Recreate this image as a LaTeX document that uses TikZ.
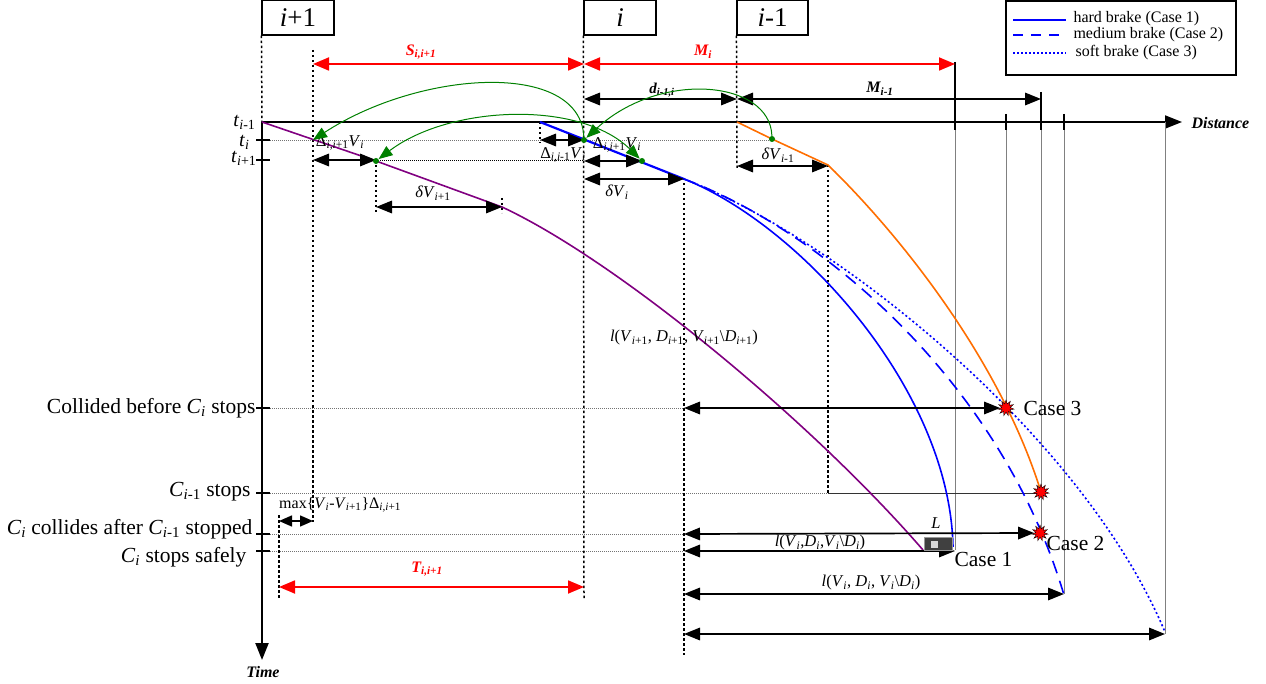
\documentclass[tikz,border=0pt]{standalone}
\usepackage{fontspec}
\setmainfont{Liberation Serif}
\usetikzlibrary{arrows.meta,shapes.geometric}
\definecolor{orng}{RGB}{255,110,0}
\definecolor{grn}{RGB}{0,128,0}
\definecolor{prp}{RGB}{128,0,128}
\newcommand{\sbs}[1]{\textsubscript{#1}}
\begin{document}
\begin{tikzpicture}[x=1pt,y=-1pt,
  box/.style={draw,line width=1.1pt,minimum width=72pt,minimum height=35pt,inner sep=0pt,font=\fontsize{27}{30}\selectfont},
  vd/.style={line width=1.5pt,dash pattern=on 2.5pt off 2.5pt},
  gd/.style={black!55,line width=0.7pt,dash pattern=on 1pt off 1pt},
  vg/.style={black!50,line width=0.6pt},
  darr/.style={line width=1.7pt,{Triangle[length=16pt,width=12.5pt]}-{Triangle[length=16pt,width=12.5pt]}},
  rarr/.style={red,line width=1.8pt,{Triangle[length=16pt,width=13pt]}-{Triangle[length=16pt,width=13pt]}},
  garr/.style={grn,line width=1pt,-{Triangle[length=14pt,width=11pt]}},
  garr2/.style={grn,line width=1pt,{Triangle[length=14pt,width=11pt]}-{Triangle[length=14pt,width=11pt]}},
  gpt/.style={circle,fill=grn,inner sep=0pt,minimum size=6pt},
  burst/.style={star,star points=11,star point ratio=1.9,fill=red,draw=black,line width=0.4pt,minimum size=16pt,inner sep=0pt},
  fbig/.style={font=\fontsize{21.5}{24}\selectfont},
  ft/.style={font=\fontsize{20}{22}\selectfont},
  fs/.style={font=\fontsize{16}{18}\selectfont},
  fl/.style={font=\fontsize{16.5}{18}\selectfont},
  fb/.style={font=\bfseries\itshape\fontsize{16}{18}\selectfont},
  tick/.style={line width=1.5pt}]
\useasboundingbox (0,0) rectangle (1266,684);

% boxes
\node[box] (bA) at (298,17.5) {\textit{i}+1};
\node[box] (bB) at (620,17.5) {\textit{i}};
\node[box,minimum width=71pt] (bC) at (772.5,17.5) {\textit{i}-1};

% axes
\coordinate (O) at (262,122);
\coordinate (Xe) at (1182,122);
\coordinate (Te) at (262,660);
\draw[line width=2.2pt,-{Triangle[length=17pt,width=13pt]}] (O) -- (Te);
\draw[line width=2pt,-{Triangle[length=17pt,width=13pt]}] (O) -- (Xe);
\node[fb,anchor=west] (dist) at (1188,123) {Distance};
\node[fb] (time) at (263,672) {Time};

% thin gray helper lines
\draw[gd] (262,140) -- (772,140);
\draw[black,line width=0.7pt,dash pattern=on 1pt off 1pt] (376,160) -- (584,160);
\draw[gd] (262,408) -- (684,408);
\draw[gd] (262,493) -- (828,493);
\draw[gd] (262,534) -- (684,534);
\draw[gd] (262,551) -- (684,551);
\draw[vg] (955,122) -- (955,550);
\draw[vg] (1006,130) -- (1006,408);
\draw[vg] (1041,130) -- (1041,534);
\draw[vg] (1064,130) -- (1064,594);
\draw[vg] (1165,122) -- (1165,634);
\draw[line width=0.8pt,black!80] (828,493) -- (1041,493);

% ticks
\foreach \yy in {140,160,408,493,534,551} \draw[tick] (256,\yy) -- (270,\yy);
\draw[line width=1.6pt] (955,62) -- (955,130);
\draw[line width=1.6pt] (1041,92) -- (1041,130);
\draw[line width=1.6pt] (1006,114) -- (1006,130);
\draw[line width=1.6pt] (1064,114) -- (1064,130);

% dotted verticals
\draw[vd] (bA.south west) -- (O);
\draw[vd] (313,50) -- (313,522);
\draw[vd] (bB.south west) -- (584,600);
\draw[vd] (bC.south west) -- (737,168);
\draw[vd] (376,160) -- (376,213);
\draw[vd] (502,198) -- (502,213);
\draw[vd] (540,122) -- (540,143);
\draw[vd] (684,178) -- (684,655);
\draw[vd] (828,165) -- (828,493);
\draw[vd] (279,515) -- (279,598);

% left labels
\node[ft,anchor=east] (lt1) at (259,122) {\textit{t}\sbs{\textit{i}-1}};
\node[ft,anchor=east] (lt2) at (253,142) {\textit{t}\sbs{\textit{i}}};
\node[ft,anchor=east] (lt3) at (260,158) {\textit{t}\sbs{\textit{i}+1}};
\node[fbig,anchor=east] (lc1) at (259,408) {Collided before \textit{C}\sbs{\textit{i}} stops};
\node[fbig,anchor=east] (lc2) at (254,492) {\textit{C}\sbs{\textit{i}-1} stops};
\node[fbig,anchor=east] (lc3) at (256,529) {\textit{C}\sbs{\textit{i}} collides after \textit{C}\sbs{\textit{i}-1} stopped};
\node[fbig,anchor=east] (lc4) at (250,557) {\textit{C}\sbs{\textit{i}} stops safely};

% red arrows
\draw[rarr] (313,64) -- (584,64);
\draw[rarr] (584,64) -- (955,64);
\draw[rarr] (279,587) -- (584,587);
\node[fb,red] (lS) at (421,52) {\textit{S}\sbs{\textit{i,i}+1}};
\node[fb,red] (lM) at (703,52) {\textit{M}\sbs{\textit{i}}};
\node[fb,red] (lT) at (427,569) {\textit{T}\sbs{\textit{i,i}+1}};

% black top arrows
\draw[darr] (584,99) -- (737,99);
\draw[darr] (737,99) -- (1041,99);
\node[fb,font=\bfseries\itshape\fontsize{15}{17}\selectfont] (ld) at (662,90) {\textit{d}\sbs{\textit{i}-1\textit{,i}}};
\node[fb] (lMm) at (880,89) {\textit{M}\sbs{\textit{i}-1}};

% vehicle trajectories
\draw[prp,line width=1.6pt] (262,122) -- (376,161) -- (502,207) .. controls (620,262) and (815,425) .. (923,550);
\draw[orng,line width=1.6pt] (737,122) -- (772,139) -- (828,165) .. controls (900,235) and (1000,360) .. (1041,492);
\draw[blue,line width=2.2pt] (540,122) -- (684,179);
\draw[blue,line width=1.6pt] (684,179) .. controls (800,225) and (950,390) .. (953,547);
\draw[blue,line width=1.6pt,dash pattern=on 13pt off 8pt] (684,179) .. controls (820,230) and (1000,380) .. (1064,595);
\draw[blue,line width=1.6pt,dash pattern=on 2pt off 2.5pt] (684,179) .. controls (830,235) and (1080,430) .. (1165,632);

% black small arrows
\draw[darr] (313,160) -- (376,160);
\draw[darr] (376,207) -- (502,207);
\draw[darr] (540,140) -- (584,140);
\draw[darr] (584,161) -- (642,161);
\draw[darr] (584,179) -- (684,179);
\draw[darr] (737,166) -- (828,166);
\node[fl] (la1) at (340,143) {Δ\sbs{\textit{i,i}+1}\textit{V}\sbs{\textit{i}}};
\node[fl] (la2) at (433,193) {\textit{δV}\sbs{\textit{i}+1}};
\node[fl] (la3) at (563,155) {Δ\sbs{\textit{i,i}-1}\textit{V}\sbs{\textit{i}}};
\node[fl] (la4) at (617,145) {Δ\sbs{\textit{i,i}+1}\textit{V}\sbs{\textit{i}}};
\node[fl] (la5) at (617,192) {\textit{δV}\sbs{\textit{i}}};
\node[fl] (la6) at (778,155) {\textit{δV}\sbs{\textit{i}-1}};

% green points and mapping curves
\node[gpt] (g1) at (584,140) {};
\node[gpt] (g2) at (376,161) {};
\node[gpt] (g3) at (642,161) {};
\node[gpt] (g4) at (772,139) {};
\coordinate (a1) at (313,140);
\draw[garr] (g1) .. controls (580,60) and (420,70) .. (a1);
\draw[garr2] (g2) .. controls (450,105) and (580,100) .. (g3);
\draw[garr] (g4) .. controls (770,80) and (660,70) .. (g1);

% outcome arrows
\node[burst] (s3) at (1006,408) {};
\node[burst] (s2) at (1041,492) {};
\node[burst] (s1) at (1040,533) {};
\coordinate (e1) at (955,551);
\coordinate (e2) at (1064,594);
\coordinate (e3) at (1165,634);
\draw[darr] (684,408) -- (s3.west);
\draw[darr] (684,534) -- (s1.west);
\draw[darr] (684,551) -- (e1);
\draw[darr] (684,594) -- (e2);
\draw[darr] (684,634) -- (e3);
\node[fbig,anchor=west] (c3) at (1020,408) {Case 3};
\node[fbig,anchor=west] (c2) at (1043,543) {Case 2};
\node[fbig,anchor=west] (c1) at (951,559) {Case 1};
\node[fl] (lL) at (936,523) {\textit{L}};
\node[fill=black!75,draw=black!40,minimum width=28pt,minimum height=13pt,inner sep=0pt] (ic) at (938,544) {};
\node[fill=black!15,minimum width=7pt,minimum height=7pt,inner sep=0pt] (ic2) at (934,544) {};
\node[fl] (ll1) at (820,543) {\textit{l}(\textit{V}\sbs{\textit{i}},\textit{D}\sbs{\textit{i}},\textit{V}\sbs{\textit{i}}\textbackslash\textit{D}\sbs{\textit{i}})};
\node[fl] (ll2) at (871,583) {\textit{l}(\textit{V}\sbs{\textit{i}}, \textit{D}\sbs{\textit{i}}, \textit{V}\sbs{\textit{i}}\textbackslash\textit{D}\sbs{\textit{i}})};
\node[fl] (ll3) at (684,338) {\textit{l}(\textit{V}\sbs{\textit{i}+1}, \textit{D}\sbs{\textit{i}+1}, \textit{V}\sbs{\textit{i}+1}\textbackslash\textit{D}\sbs{\textit{i}+1})};

% max label
\draw[line width=1.5pt,{Triangle[length=13pt,width=11pt]}-{Triangle[length=13pt,width=11pt]}] (279,521) -- (313,521);
\node[fs,anchor=west,inner sep=0pt] (lmax) at (279,505) {max\{\textit{V}\sbs{\textit{i}}-\textit{V}\sbs{\textit{i}+1}\}Δ\sbs{\textit{i,i}+1}};

% legend
\node[draw,line width=1.1pt,minimum width=230pt,minimum height=74pt,inner sep=0pt] (leg) at (1121,38) {};
\draw[blue,line width=1.3pt] (1013,20) -- (1066,20);
\draw[blue,line width=1.3pt,dash pattern=on 10pt off 8pt] (1013,35) -- (1066,35);
\draw[blue,line width=1.3pt,dash pattern=on 2pt off 2pt] (1013,53) -- (1066,53);
\node[fs,anchor=west] (lg1) at (1070,19) {hard brake (Case 1)};
\node[fs,anchor=west] (lg2) at (1070,35) {medium brake (Case 2)};
\node[fs,anchor=west] (lg3) at (1072,53) {soft brake (Case 3)};
\end{tikzpicture}
\end{document}
